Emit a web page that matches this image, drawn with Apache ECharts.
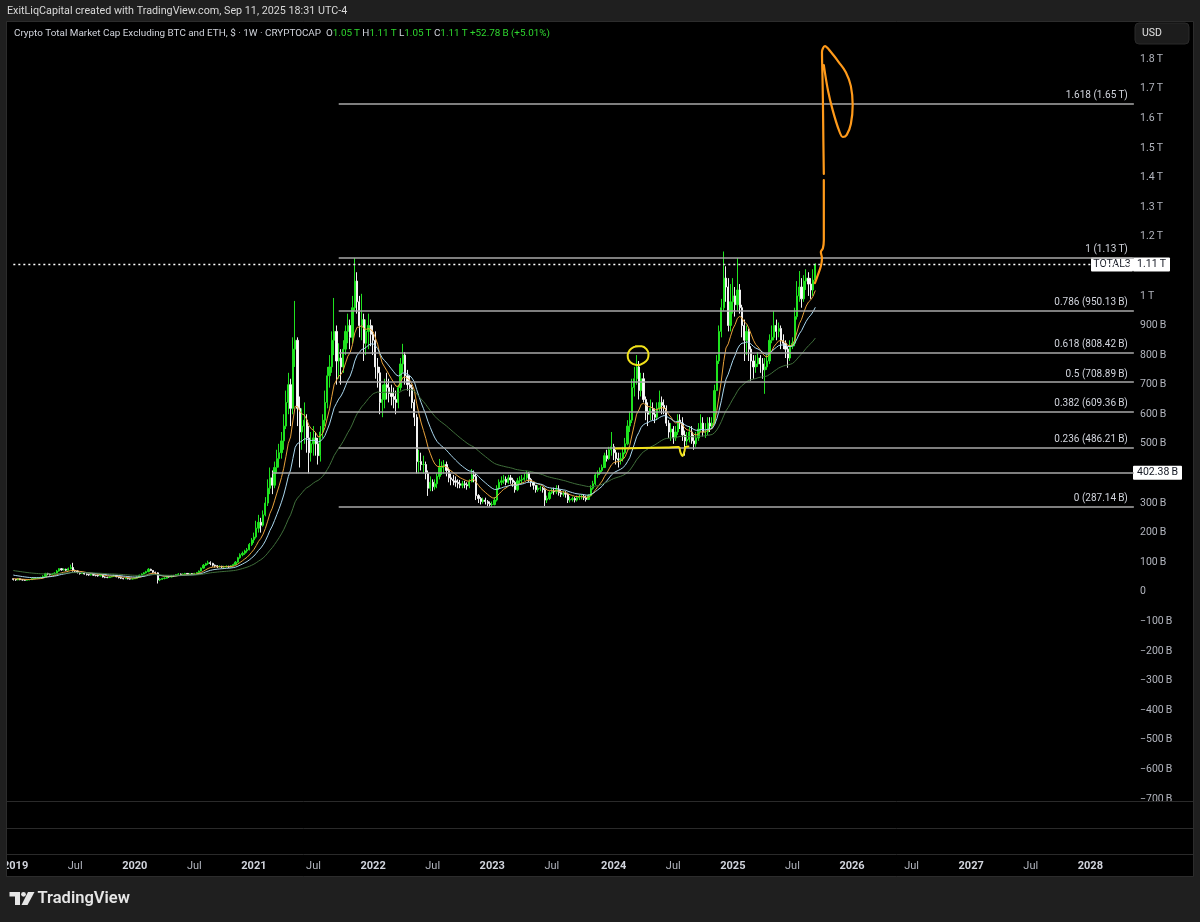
<!DOCTYPE html>
<html><head><meta charset="utf-8">
<script src="https://cdn.jsdelivr.net/npm/echarts@6/dist/echarts.min.js"></script>
<style>html,body{margin:0;padding:0;background:#1f1f1f;overflow:hidden}#c{width:1200px;height:922px}</style>
</head><body><div id="c"></div>
<script>
// ---------- DATA (weekly candles, values in billions USD) ----------
const firstWeek = [2018, 11, 24];   // Monday 2018-12-24 (UTC, month 0-based)
const weekCount = 490;              // weeks shown on the time axis
const firstOpen = 44;

const close2019 = [42,40,44,41,40,39,40,41,44,45,46,47,48, 52,62,60,58,60,63,70,78,74,76,73,78,82, 72,70,66,62,65,60,58,57,58,56,55,54,57, 50,49,48,50,52,55,51,48,46,44,45,44,43,44];
const high2019  = [45,44,46,45,43,42,42,43,46,47,48,49,51, 56,64,64,62,63,66,74,80,80,79,78,82,92, 98,75,72,67,68,66,62,60,61,60,58,58,60, 58,52,51,52,54,58,57,52,49,47,47,46,45,46];
const low2019   = [38,37,39,39,38,37,38,39,40,43,44,45,46, 47,51,56,55,57,59,62,68,71,72,70,72,76, 68,64,62,58,60,58,55,54,55,54,52,51,52, 48,46,46,47,49,50,49,45,43,42,43,42,41,42];

const close2020 = [46,50,56,60,64,68,76,72,66,64,40,42,45, 46,52,50,55,54,58,60,58,60,62,60,61,60, 62,65,70,80,90,95,98,96,90,88,85,86,84, 85,86,84,88,92,100,115,125,130,138,142,160,175];
const high2020  = [48,52,58,62,66,71,80,78,72,68,66,46,47, 49,54,54,57,57,60,63,62,62,64,63,63,63, 64,67,72,82,94,98,105,103,98,92,90,89,88, 88,89,88,90,95,104,118,130,136,142,148,165,182];
const low2020   = [43,45,49,55,59,62,66,70,63,60,28,36,40, 42,45,48,49,51,53,56,56,57,59,58,58,58, 58,61,64,69,78,87,91,90,85,82,80,82,80, 80,82,80,82,86,90,98,112,120,125,132,140,155];

const close2021 = [185,215,235,225,260,300,350,385,360,420,450,470,510, 560,640,700,620,820,850,620,540,560,580,520,470,500, 520,500,460,540,580,640,730,760,850,880,780,790,760, 820,880,900,860,960,1050,980,900,920,840,880,900,870];
const high2021  = [200,240,260,250,275,320,380,420,410,440,480,500,540, 600,680,740,720,860,983,860,660,620,640,600,560,540, 560,540,520,560,600,680,760,800,880,993,900,840,820, 850,900,940,920,1000,1128,1080,1000,1007,940,920,940,920];
const low2021   = [165,180,200,200,220,255,290,330,330,350,400,420,450, 480,550,600,560,600,760,560,420,480,500,470,400,440, 460,460,430,440,520,560,620,690,740,800,700,720,700, 740,800,840,820,840,950,940,860,850,780,800,820,830];

const close2022 = [850,760,740,640,650,700,690,670,660,650,640,690,770, 800,730,700,690,640,590,440,440,430,430,400,350,370, 355,365,390,420,425,430,410,385,380,375,370,365,360, 365,362,358,372,395,390,325,315,305,310,305,298,295];
const high2022  = [900,880,790,760,700,720,740,720,700,690,680,700,790, 838,810,750,730,700,650,600,480,470,460,440,410,390, 380,380,400,449,440,445,440,420,400,395,390,380,378, 375,375,370,380,415,410,400,330,320,318,318,310,305];
const low2022   = [800,720,690,600,590,620,650,640,630,620,600,620,680, 740,700,680,660,620,560,400,400,410,400,380,324,340, 340,345,350,380,395,400,390,370,360,360,355,350,350, 350,350,345,350,370,370,310,300,295,298,295,290,288];

const close2023 = [295,310,350,370,375,380,370,385,378,370,345,375,378, 380,385,400,380,370,360,345,350,350,345,310,315,335, 340,338,345,335,330,332,330,310,312,315,310,318,320, 322,318,312,325,350,365,395,400,410,420,460,450,480];
const high2023  = [305,320,360,380,390,395,390,395,395,385,375,385,390, 395,400,409,405,385,372,360,360,358,355,350,325,340, 350,352,360,360,345,342,340,335,322,322,320,325,328, 330,330,325,330,360,375,400,410,420,430,470,480,490];
const low2023   = [287,292,305,345,360,365,360,365,365,355,335,340,365, 365,375,378,370,355,345,335,338,340,335,290,300,310, 330,328,330,325,320,322,318,300,302,305,302,305,310, 312,310,305,310,322,345,360,385,395,405,418,440,445];

const close2024 = [490,470,450,445,450,470,500,560,580,690,720,760,680, 720,650,610,600,620,600,590,620,640,630,620,570,540, 550,520,540,580,570,530,510,515,540,510,500,520,550, 570,540,540,570,560,570,680,780,880,960,1060,1030,900];
const high2024  = [540,500,480,470,470,490,520,580,610,720,760,800,780, 740,740,660,640,650,640,620,640,680,660,650,630,580, 570,560,560,600,600,590,545,540,560,560,530,540,570, 600,590,570,590,590,590,700,800,900,990,1150,1100,1060];
const low2024   = [460,445,430,420,430,440,465,495,540,570,660,700,650, 660,640,580,560,580,580,570,580,610,600,600,560,520, 510,500,510,530,550,510,460,495,505,500,480,490,510, 540,525,520,530,540,550,565,680,770,860,950,980,880];

const close2025 = [980,1000,970,1020,960,900,850,880,820,780,760,770,790, 770,750,760,780,850,860,900,880,890,850,840,820,790, 830,840,930,1000,1030,990,1050,1060,1040,1020,1053.5,1106.28];
const high2025  = [1040,1060,1030,1128,1040,970,920,900,890,830,800,800,810, 800,790,790,800,870,900,949,920,910,900,870,850,830, 850,860,960,1050,1084,1060,1070,1090,1080,1060,1090,1110];
const low2025   = [880,940,930,950,940,860,780,800,780,713,720,740,760, 740,720,669,750,770,840,850,850,860,820,820,790,757, 780,820,830,920,980,960,980,1020,1000,990,1000,1050];

// moving averages (EMA periods) and their starting values read at the left edge
const maPeriods = [10, 20, 50];
const maSeeds   = [45, 58, 73];
const maColors  = ['#e9a23b', '#a9d7ee', '#3f6e3a'];

// Fibonacci retracement levels (drawn from the Sep-2021 week)
const fibRatios = ['0', '0.236', '0.382', '0.5', '0.618', '0.786', '1', '1.618'];
const fibValues = [287.14, 486.21, 609.36, 708.89, 808.42, 950.13, 1130, 1650];
const fibStartWeek = 142;
// horizontal ray at 402.38 B, starting in early 2021
const hLineValue = 402.38;
const hLineStartWeek = 113;

// hand-drawn pen annotations: [week index, value in B]
const penOrangeA = [[349.8,1043],[351.2,1073],[352.4,1100],[352.9,1128],[352.4,1148],[353.3,1161],[353.7,1188],[353.7,1290],[353.7,1391]];
const penOrangeB = [[353.7,1412],[353.5,1527],[353.3,1662],[353.1,1746],[352.9,1824],[354.2,1844],[356.8,1824],[360.2,1790],[363.3,1756],[365.5,1709],[366.3,1645],[365.5,1581],[363.7,1544],[362,1537],[360.3,1560],[357.6,1627],[355.5,1695],[353.7,1780]];
const penYellowCircle = [[271.6,830],[274.2,830],[276.3,820],[277.2,803],[276.8,786],[275,773],[272.9,766],[270.3,770],[268.5,783],[268.1,800],[269,817],[270.7,827],[272.9,830]];
const penYellowLine = [[262.9,484],[274.2,485.6],[285,487.3],[290.3,489],[291.1,472],[292,458.6],[292.9,475.5],[293.3,489],[294.6,490.7]];

// ---------- BUILD ----------
const closes = [].concat(close2019, close2020, close2021, close2022, close2023, close2024, close2025);
const highs  = [].concat(high2019, high2020, high2021, high2022, high2023, high2024, high2025);
const lows   = [].concat(low2019, low2020, low2021, low2022, low2023, low2024, low2025);
const opens  = closes.map((c, i) => i === 0 ? firstOpen : closes[i - 1]);
const candles = closes.map((c, i) => {
  const o = opens[i];
  return [o, c, Math.min(lows[i], o, c), Math.max(highs[i], o, c)];
});

const DAY = 86400000;
const t0 = Date.UTC(firstWeek[0], firstWeek[1], firstWeek[2]);
const categories = [];
for (let k = 0; k < weekCount; k++) categories.push(new Date(t0 + k * 7 * DAY).toISOString().slice(0, 10));
function weekLabel(k) {
  for (let j = 0; j < 7; j++) {
    const d = new Date(t0 + (k * 7 + j) * DAY);
    if (d.getUTCDate() === 1) {
      if (d.getUTCMonth() === 0) return '{y|' + d.getUTCFullYear() + '}';
      if (d.getUTCMonth() === 6) return '{m|Jul}';
    }
  }
  return null;
}

function ema(period, seed) {
  const a = 2 / (period + 1); let prev = seed;
  return closes.map(c => (prev = a * c + (1 - a) * prev, +prev.toFixed(2)));
}

const TS = '\u2009';
function fmtVal(v, dec) {
  const a = Math.abs(v), s = v < 0 ? '\u2212' : '';
  if (a === 0) return '0';
  if (a >= 1000) return s + (dec ? (a / 1000).toFixed(2) : String(+(a / 1000).toFixed(2))) + TS + 'T';
  return s + (dec ? a.toFixed(2) : String(a)) + TS + 'B';
}
const hiddenTicks = [1100, 400, 1900, 2000, -800];

const FONT = 'Roboto, "Noto Sans", sans-serif';
const maSeries = maPeriods.map((p, j) => ({
  type: 'line', name: 'EMA' + p, data: ema(p, maSeeds[j]), showSymbol: false, symbol: 'none',
  lineStyle: { color: maColors[j], width: 1 }, silent: true, z: 3
}));

function penSeries(data, color, width) {
  return { type: 'line', xAxisIndex: 1, data: data, showSymbol: false, symbol: 'none', smooth: 0.35,
    lineStyle: { color: color, width: width, cap: 'round', join: 'round' }, silent: true, z: 6, clip: false };
}

const chart = echarts.init(document.getElementById('c'), null, { width: 1200, height: 922 });
const fibLines = fibValues.map((v, i) => [
  { coord: [fibStartWeek, v], label: { formatter: fibRatios[i] + ' (' + fmtVal(v, true) + ')' } },
  { coord: [weekCount - 1, v] }
]);
chart.setOption({
  animation: false,
  backgroundColor: '#1f1f1f',
  grid: { left: 8, right: 65, top: 0, bottom: 93.5, containLabel: false },
  xAxis: [{
    type: 'category', data: categories, boundaryGap: true,
    axisLine: { show: false }, axisTick: { show: false }, splitLine: { show: false },
    axisLabel: {
      interval: (idx) => weekLabel(idx) !== null,
      formatter: (val, idx) => weekLabel(idx) || '',
      margin: 32,
      rich: {
        y: { color: '#d1d4dc', fontWeight: 'bold', fontSize: 11, fontFamily: FONT },
        m: { color: '#b2b5be', fontSize: 11, fontFamily: FONT }
      }
    }
  }, {
    type: 'value', min: -0.5, max: weekCount - 0.5, show: false
  }],
  yAxis: {
    type: 'value', position: 'right', min: -800, max: 2000, interval: 100, scale: false,
    axisLine: { show: false }, axisTick: { show: false }, splitLine: { show: false },
    axisLabel: {
      margin: 5, color: '#b2b5be', fontSize: 10.5, fontFamily: FONT,
      formatter: (v) => hiddenTicks.includes(v) ? '' : fmtVal(v, false)
    }
  },
  series: [
    {
      type: 'candlestick', data: candles, barWidth: 1.7, z: 2,
      itemStyle: { color: '#1fe21f', color0: '#ffffff', borderColor: '#1fe21f', borderColor0: '#f2f2f2', borderWidth: 1 },
      silent: true,
      markLine: {
        silent: true, symbol: ['none', 'none'], animation: false,
        lineStyle: { color: '#a8a8a8', width: 1.6, type: 'solid' },
        label: { show: true, position: 'insideEndTop', color: '#d1d4dc', fontSize: 10, fontFamily: FONT, distance: [6, 3] },
        data: fibLines.concat([
          [{ coord: [hLineStartWeek, hLineValue], label: { show: false } }, { coord: [weekCount - 1, hLineValue] }],
          [{ coord: [0, closes[closes.length - 1]], label: { show: false }, lineStyle: { color: '#ffffff', type: [2, 3], width: 1.3 } },
           { coord: [weekCount - 1, closes[closes.length - 1]] }]
        ])
      }
    },
    ...maSeries,
    penSeries(penOrangeA, '#ff9a1a', 2.2),
    penSeries(penOrangeB, '#ff9a1a', 2.2),
    penSeries(penYellowCircle, '#f2e21a', 2),
    penSeries(penYellowLine, '#f2e21a', 2)
  ]
});

// ---------- overlays ----------
const last = candles[candles.length - 1];
const prevClose = closes[closes.length - 2];
const chg = last[1] - prevClose;
const yLast = chart.convertToPixel({ yAxisIndex: 0 }, last[1]);
const yH = chart.convertToPixel({ yAxisIndex: 0 }, hLineValue);
const fmtT = v => (v / 1000).toFixed(2) + TS + 'T';

const titleRich = '{t|Crypto Total Market Cap Excluding BTC and ETH, $ · 1W · CRYPTOCAP} ' +
  ' {k|O}{g|' + fmtT(last[0]) + '} {k|H}{g|' + fmtT(last[3]) + '} {k|L}{g|' + fmtT(last[2]) + '} {k|C}{g|' + fmtT(last[1]) + '} ' +
  '{g|+' + chg.toFixed(2) + TS + 'B (+' + (chg / prevClose * 100).toFixed(2) + '%)}';

const box = (id, x, y, w, h, text, fill, color) => ({
  type: 'group', id: id, z: 120, children: [
    { type: 'rect', shape: { x: x, y: y, width: w, height: h, r: 1 }, style: { fill: fill } },
    { type: 'text', x: x + w / 2, y: y + h / 2, style: { text: text, fill: color, font: '10.5px ' + FONT, align: 'center', verticalAlign: 'middle' } }
  ]
});

const TF = '9.9px ' + FONT;
chart.setOption({
  graphic: [
    // chart panel
    { type: 'rect', id: 'panel', z: -10, shape: { x: 6.5, y: 21.5, width: 1187, height: 855 }, style: { fill: '#000000', stroke: '#2c2c2c', lineWidth: 1 } },
    // lower pane separators
    { type: 'line', z: 110, shape: { x1: 7, y1: 801.5, x2: 1193, y2: 801.5 }, style: { stroke: '#2a2a2a', lineWidth: 1 } },
    { type: 'line', z: 110, shape: { x1: 7, y1: 828.5, x2: 1193, y2: 828.5 }, style: { stroke: '#2a2a2a', lineWidth: 1 } },
    { type: 'line', z: 110, shape: { x1: 7, y1: 854.5, x2: 1193, y2: 854.5 }, style: { stroke: '#2a2a2a', lineWidth: 1 } },
    // cover left margin outside the panel
    { type: 'rect', z: 110, shape: { x: 0, y: 21, width: 6, height: 860 }, style: { fill: '#1f1f1f' } },
    { type: 'line', z: 111, shape: { x1: 6.5, y1: 21.5, x2: 6.5, y2: 876.5 }, style: { stroke: '#2c2c2c', lineWidth: 1 } },
    // header
    { type: 'text', z: 120, x: 7, y: 11, style: { text: 'ExitLiqCapital created with TradingView.com, Sep 11, 2025 18:31 UTC-4', fill: '#d8d8d8', font: '10.75px ' + FONT, verticalAlign: 'middle' } },
    { type: 'text', z: 120, x: 14, y: 33.5, style: {
        text: titleRich, verticalAlign: 'middle', font: TF,
        rich: {
          t: { fill: '#d1d4dc', font: TF },
          k: { fill: '#d1d4dc', font: TF },
          g: { fill: '#2fd62f', font: TF }
        } } },
    // USD box
    { type: 'rect', z: 120, shape: { x: 1135, y: 23, width: 54, height: 21, r: 4 }, style: { fill: '#1c1c1c', stroke: '#2a2a2a' } },
    { type: 'text', z: 121, x: 1142, y: 33.5, style: { text: 'USD', fill: '#e0e0e0', font: '10.5px ' + FONT, verticalAlign: 'middle' } },
    // price labels on the axis
    box('lblSym', 1091, yLast - 7, 42, 14, 'TOTAL3', '#ffffff', '#131722'),
    box('lblLast', 1133, yLast - 7, 37, 14, fmtT(last[1]), '#ffffff', '#131722'),
    box('lblH', 1133, yH - 7, 49, 14, hLineValue.toFixed(2) + TS + 'B', '#ffffff', '#131722'),
    // TradingView logo
    { type: 'group', z: 120, children: [
      { type: 'rect', shape: { x: 9.5, y: 892, width: 10.5, height: 4.5 }, style: { fill: '#e6e6e6' } },
      { type: 'rect', shape: { x: 15, y: 892, width: 5, height: 13 }, style: { fill: '#e6e6e6' } },
      { type: 'circle', shape: { cx: 23.5, cy: 894.3, r: 2.4 }, style: { fill: '#e6e6e6' } },
      { type: 'polygon', shape: { points: [[28, 892], [34.5, 892], [27.5, 905], [21.5, 905]] }, style: { fill: '#e6e6e6' } }
    ] },
    { type: 'text', z: 120, x: 37.5, y: 899, style: { text: 'TradingView', fill: '#e6e6e6', font: '600 16.5px ' + FONT, verticalAlign: 'middle' } }
  ]
});
</script>
</body></html>
